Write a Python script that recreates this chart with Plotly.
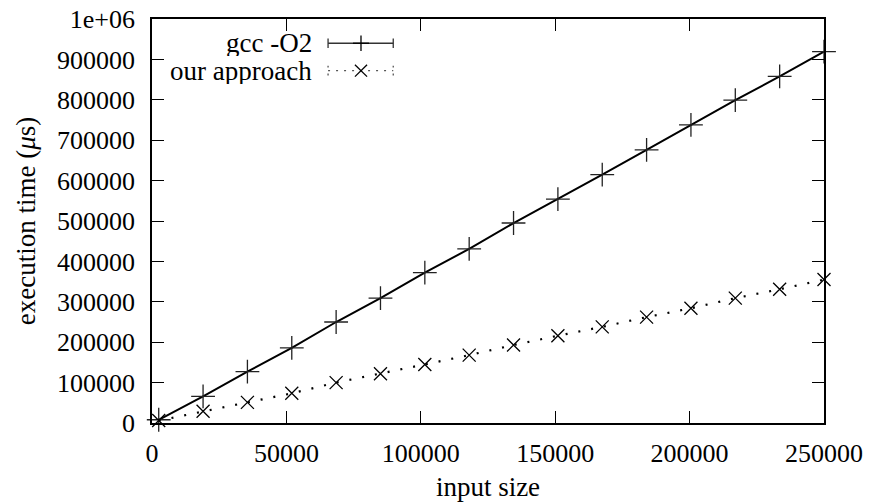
import plotly.graph_objects as go

# input sizes and execution times (microseconds)
input_size = [2500, 19000, 35500, 52000, 68500, 85000, 101500, 118000,
              134500, 151000, 167500, 184000, 200500, 217000, 233500, 250000]
gcc_o2 = [8000, 66000, 127000, 186000, 250000, 309000, 372000, 431000,
          495000, 554000, 615000, 676000, 738000, 799000, 858000, 919000]
our_approach = [6000, 29000, 51000, 73500, 100000, 122000, 145000, 168000,
                193000, 216000, 238000, 262000, 284000, 309000, 331000, 355000]

x_ticks = [0, 50000, 100000, 150000, 200000, 250000]
y_ticks = [0, 100000, 200000, 300000, 400000, 500000, 600000, 700000, 800000, 900000, 1000000]
y_tick_text = ["0", "100000", "200000", "300000", "400000", "500000",
               "600000", "700000", "800000", "900000", "1e+06"]

FONT = "Liberation Serif"
SIZE = 27
TICK_SIZE = 26
INK = "black"

fig = go.Figure()

fig.add_trace(
    go.Scatter(
        name="gcc -O2",
        x=input_size,
        y=gcc_o2,
        mode="lines+markers",
        line={"color": INK, "width": 2},
        marker={"symbol": "cross-thin", "size": 17, "line": {"color": "#222", "width": 1.3}},
        cliponaxis=False,
    )
)
fig.add_trace(
    go.Scatter(
        name="our approach",
        x=input_size,
        y=our_approach,
        mode="lines+markers",
        line={"color": INK, "width": 2.2, "dash": "2px,11px"},
        marker={"symbol": "x-thin", "size": 13, "line": {"color": INK, "width": 1.3}},
        cliponaxis=False,
    )
)

# hand-made key: text right-aligned, sample to its right (gnuplot style)
shapes = []
annotations = []
key_rows = [("gcc -O2", 0.94, "solid"), ("our approach", 0.872, "dot")]
x0, x1, xm = 0.262, 0.359, 0.311
for label, yk, style in key_rows:
    annotations.append(
        dict(x=0.241, y=yk, xref="paper", yref="paper", text=label, showarrow=False,
             xanchor="right", yanchor="middle", height=26,
             font={"family": FONT, "size": SIZE, "color": INK})
    )
    if style == "solid":
        line = {"color": "#333", "width": 1.3}
        shapes.append(dict(type="line", xref="paper", yref="paper", x0=x0, x1=x1, y0=yk, y1=yk, line=line))
        for xc in (x0, x1):
            shapes.append(dict(type="line", xref="paper", yref="paper", x0=xc, x1=xc,
                               y0=yk - 0.012, y1=yk + 0.012, line=line))
        shapes.append(dict(type="line", xref="paper", yref="paper", x0=xm - 0.012, x1=xm + 0.012,
                           y0=yk, y1=yk, line={"color": INK, "width": 1.3}))
        shapes.append(dict(type="line", xref="paper", yref="paper", x0=xm, x1=xm,
                           y0=yk - 0.019, y1=yk + 0.019, line={"color": INK, "width": 1.3}))
    else:
        line = {"color": "#555", "width": 1.3, "dash": "2px,6px"}
        shapes.append(dict(type="line", xref="paper", yref="paper", x0=x0, x1=x1, y0=yk, y1=yk, line=line))
        for xc in (x0, x1):
            shapes.append(dict(type="line", xref="paper", yref="paper", x0=xc, x1=xc,
                               y0=yk - 0.012, y1=yk + 0.012, line=line))
        for sgn in (1, -1):
            shapes.append(dict(type="line", xref="paper", yref="paper", x0=xm - 0.009, x1=xm + 0.009,
                               y0=yk - sgn * 0.0147, y1=yk + sgn * 0.0147, line={"color": INK, "width": 1.3}))

axis_common = dict(
    automargin=True,
    showgrid=False,
    zeroline=False,
    showline=True,
    linecolor=INK,
    linewidth=1.6,
    mirror="allticks",
    ticks="inside",
    ticklen=12,
    tickwidth=1,
    tickcolor=INK,
    ticklabeloverflow="allow",
    tickfont={"family": FONT, "size": TICK_SIZE, "color": INK},
)

# the page body keeps an 8px margin, so the figure is a little smaller than the window
fig.update_layout(
    width=865,
    height=494,
    template="none",
    paper_bgcolor="white",
    plot_bgcolor="white",
    showlegend=False,
    margin={"l": 144, "r": 49, "t": 11, "b": 79, "autoexpand": False},
    font={"family": FONT, "color": INK},
    shapes=shapes,
    annotations=annotations,
    xaxis=dict(
        axis_common,
        range=[0, 250000],
        tickvals=x_ticks,
        ticktext=[str(v) for v in x_ticks],
        ticklabelstandoff=6,
        title={"text": "input size", "font": {"family": FONT, "size": SIZE}, "standoff": 10},
    ),
    yaxis=dict(
        axis_common,
        range=[0, 1000000],
        tickvals=y_ticks,
        ticktext=y_tick_text,
        ticklabelstandoff=10,
        title={"text": "execution time (<i>μ</i>s)", "font": {"family": FONT, "size": SIZE}, "standoff": 14},
    ),
)

fig.write_html("out.html")
